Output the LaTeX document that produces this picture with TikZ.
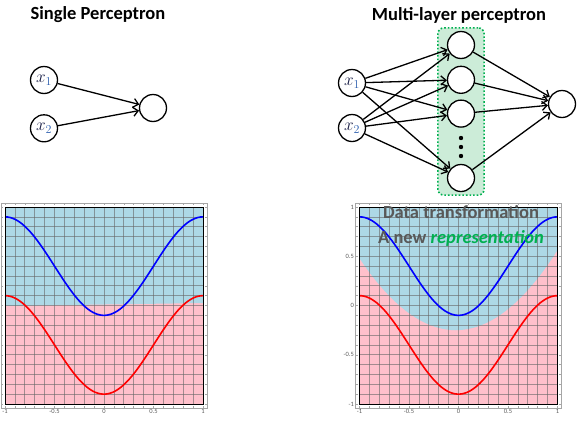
\documentclass[tikz,border=0pt]{standalone}
\usepackage{fontspec}
\setmainfont{Carlito}
\usetikzlibrary{arrows.meta,positioning,fit,backgrounds}

\definecolor{plotblue}{RGB}{173,216,230}
\definecolor{plotpink}{RGB}{255,192,203}
\definecolor{boxgreen}{RGB}{204,236,216}
\definecolor{reprgreen}{RGB}{0,176,80}
\definecolor{labelgray}{RGB}{89,89,89}
\definecolor{xnavy}{RGB}{25,30,70}
\definecolor{subblue}{RGB}{45,95,175}

\newcommand{\inlabel}[1]{$\color{xnavy}x_{\color{subblue}#1}$}

% grid, curves, frames and x tick labels of one plot (data units)
\newcommand{\plotbody}[1]{%
  \foreach \i in {-9,...,9} {
    \draw[gridline] (\i/10,-1) -- (\i/10,1);
    \draw[gridline] (-1,\i/10) -- (1,\i/10);
  }
  \draw[outerframe] (-1.04,-1.04) rectangle (1.04,1.04);
  \foreach \i in {-10,...,10} {
    \draw[outerframe] (\i/10,-1.04) -- (\i/10,-1.02);
    \draw[outerframe] (\i/10,1.04) -- (\i/10,1.02);
    \draw[outerframe] (-1.04,\i/10) -- (-1.02,\i/10);
    \draw[outerframe] (1.04,\i/10) -- (1.02,\i/10);
  }
  \draw[bluecurve] plot[domain=-1:1, samples=80] (\x, {0.4-0.5*cos(180*\x)});
  \draw[redcurve] plot[domain=-1:1, samples=80] (\x, {-0.4-0.5*cos(180*\x)});
  \draw[line width=1pt] (-1,-1) rectangle (1,1);
  \foreach \v/\t [count=\k] in {-1/-1,-0.5/-0.5,0/0,0.5/0.5,1/1}
    \node[ticklabel, anchor=north] (#1x\k) at (\v,-1.045) {\t};
}

\tikzset{
  neuron/.style={circle, draw, fill=white, line width=1.3pt,
    minimum size=27pt, inner sep=0pt, font=\fontsize{18}{18}\selectfont},
  conn/.style={-{Straight Barb[length=5pt,width=9pt]}, line width=1.3pt},
  title/.style={font=\fontsize{18.5}{20}\selectfont\bfseries},
  hidbox/.style={draw=reprgreen, fill=boxgreen, dotted, line width=1.6pt,
    rounded corners=6pt, inner xsep=9pt, inner ysep=3pt},
  ticklabel/.style={font=\fontsize{6.5}{6.5}\selectfont, text=black!65, inner sep=1pt},
  gridline/.style={black!60, line width=0.7pt, opacity=0.6},
  outerframe/.style={black!35, line width=0.5pt},
  bluecurve/.style={blue, line width=1.6pt},
  redcurve/.style={red, line width=1.6pt},
  overtext/.style={font=\fontsize{18.5}{20}\selectfont\bfseries, text=labelgray},
}

\begin{document}
\begin{tikzpicture}[x=1pt, y=-1pt]
  \useasboundingbox (0,0) rectangle (587,421);

  % titles
  \node[title] (singletitle) at (98,15) {Single Perceptron};
  \node[title] (multititle) at (459,15) {Multi-layer perceptron};

  % single perceptron
  \node[neuron] (sx1) at (44,80) {\inlabel{1}};
  \node[neuron, below=20pt of sx1] (sx2) {\inlabel{2}};
  \node[neuron] (sout) at (153,108) {};
  \draw[conn] (sx1) -- (sout);
  \draw[conn] (sx2) -- (sout);

  % multi-layer perceptron
  \node[neuron] (mx1) at (352,83) {\inlabel{1}};
  \node[neuron] (mx2) at (352,128) {\inlabel{2}};
  \node[neuron] (h1) at (461,45) {};
  \node[neuron, below=6.5pt of h1] (h2) {};
  \node[neuron, below=5.5pt of h2] (h3) {};
  \node[neuron] (h4) at (461,178) {};
  \node[neuron] (mout) at (562,104) {};
  \foreach \d in {138,147,156}
    \fill (461,\d) circle (2.2pt);
  \begin{scope}[on background layer]
    \node[hidbox, fit=(h1)(h4)] (hidden) {};
  \end{scope}
  \foreach \i in {1,2}
    \foreach \h in {1,...,4}
      \draw[conn] (mx\i) -- (h\h);
  \foreach \h in {1,...,4}
    \draw[conn] (h\h) -- (mout);

  % left plot: linear boundary
  \begin{scope}[shift={(104,305.5)}, x=99pt, y=98.5pt]
    \fill[plotpink] (-1,-1) rectangle (1,1);
    \fill[plotblue] (-1,1) -- (1,1) -- (1,0.025) -- (-1,-0.005) -- cycle;
    \plotbody{lp}
  \end{scope}

  % right plot: curved boundary
  \begin{scope}[shift={(458.5,305.5)}, x=99pt, y=98.5pt]
    \fill[plotpink] (-1,-1) rectangle (1,1);
    \fill[plotblue] (-1,1) -- (1,1) --
      plot[domain=1:-1, samples=40] (\x, {-0.25+0.77*\x*\x+0.042*\x}) -- cycle;
    \plotbody{rp}
    \foreach \v/\t [count=\k] in {-1/-1,-0.5/-0.5,0/0,0.5/0.5,1/1}
      \node[ticklabel, anchor=east] (rpy\k) at (-1.045,\v) {\t};
  \end{scope}
  \node[overtext] (datatext) at (461,212) {Data transformation};
  \node[overtext] (reprtext) at (461,238)
    {A new \textcolor{reprgreen}{\itshape representation}};
\end{tikzpicture}
\end{document}
